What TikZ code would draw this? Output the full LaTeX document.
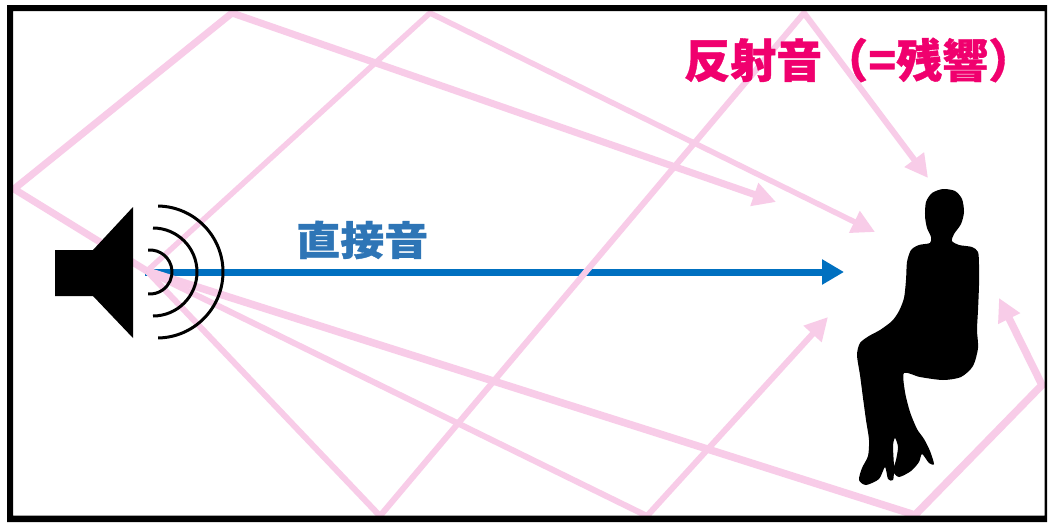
\documentclass[tikz,border=0pt]{standalone}
\usepackage{fontspec}
\newfontfamily\cjkfont{Noto Sans CJK JP}[BoldFeatures={FakeBold=0.8}]
\usetikzlibrary{arrows.meta}

\definecolor{raypink}{RGB}{248,204,232}
\definecolor{directblue}{RGB}{0,112,192}
\definecolor{labelblue}{RGB}{46,117,182}
\definecolor{labelpink}{RGB}{240,0,110}

\tikzset{
  ray/.style={draw=raypink, line width=#1, line join=miter,
    -{Triangle[length=23pt,width=23pt]}},
  ray/.default=6,
  directray/.style={draw=directblue, line width=7,
    -{Triangle[length=22pt,width=24pt]}},
  wave/.style={draw=black, line width=3},
  titletext/.style={font=\cjkfont\bfseries\fontsize{46}{50}\selectfont,
    text=labelpink, inner sep=0pt},
  directtext/.style={font=\cjkfont\bfseries\fontsize{40}{44}\selectfont,
    text=labelblue, inner sep=0pt, xscale=1.1},
}

\begin{document}
\begin{tikzpicture}[x=1pt, y=-1pt]
  \useasboundingbox (0,0) rectangle (1048,522);
  \fill[white] (0,0) rectangle (1048,522);

  % sound source and the listener's ear level
  \coordinate (src) at (147,271);
  \coordinate (dstart) at (145,272);
  \coordinate (dtip) at (844,272);

  % direct sound
  \draw[directray] (dstart) -- (dtip);

  % reflection points on the walls and the arriving tips
  \coordinate (a1) at (14,189);   \coordinate (a2) at (232,13);  \coordinate (a3) at (776,202);
  \coordinate (b1) at (430,13);   \coordinate (b2) at (875,232);
  \coordinate (c1) at (380,516);  \coordinate (c2) at (804,13);  \coordinate (c3) at (928,178);
  \coordinate (d1) at (915,515);  \coordinate (d2) at (1042,385); \coordinate (d3) at (999,298);
  \coordinate (e1) at (647,516);  \coordinate (e2) at (828,317);

  % reflected sound paths
  \draw[ray=7]   (src) -- (a1) -- (a2) -- (a3);
  \draw[ray=5.5] (src) -- (b1) -- (b2);
  \draw[ray=6]   (src) -- (c1) -- (c2) -- (c3);
  \draw[ray=7.5] (src) -- (d1) -- (d2) -- (d3);
  \draw[ray=6]   (src) -- (e1) -- (e2);

  % loudspeaker
  \fill[black] (55,250) -- (93,250) -- (133,207) -- (133,338) -- (93,296) -- (55,296) -- cycle;
  \draw[wave] (150,272) ++(-95:22) arc[start angle=-95, end angle=95, radius=22];
  \draw[wave] (153,272) ++(-90:44) arc[start angle=-90, end angle=90, radius=44];
  \draw[wave] (157,272) ++(-89:66) arc[start angle=-89, end angle=89, radius=66];

  % seated listener
  \fill[black] plot[smooth cycle, tension=0.45] coordinates {
    (943,189) (955,191) (962,199) (964,212) (961,224) (954,234) (952,241)
    (959,245) (972,247) (978,252) (979,265) (979,285) (978,310) (977,330)
    (978,348) (973,366) (961,377) (943,380) (920,377) (904,373)
    (905,392) (910,412) (917,429) (924,439) (930,451) (934,464) (929,463)
    (922,454) (919,462) (911,471) (899,477) (893,471) (896,460) (898,447)
    (895,438) (893,446) (894,468) (893,480) (888,479) (885,467) (879,479)
    (866,485) (859,480) (862,468) (868,456) (869,440) (866,420) (863,398)
    (860,375) (857,355) (860,343) (869,336) (880,330) (892,321) (899,311)
    (904,298) (906,280) (907,262) (911,250) (919,245) (930,243) (931,237)
    (927,228) (925,216) (926,202) (932,193)};

  % labels
  \node[titletext, anchor=west] (reflected) at (684,60) {反射音（=残響）};
  \node[directtext, anchor=west] (direct) at (296,240) {直接音};

  % room outline
  \fill[black, even odd rule] (7,5) rectangle (1047,522) (13,11) rectangle (1044.5,515.5);
\end{tikzpicture}
\end{document}
